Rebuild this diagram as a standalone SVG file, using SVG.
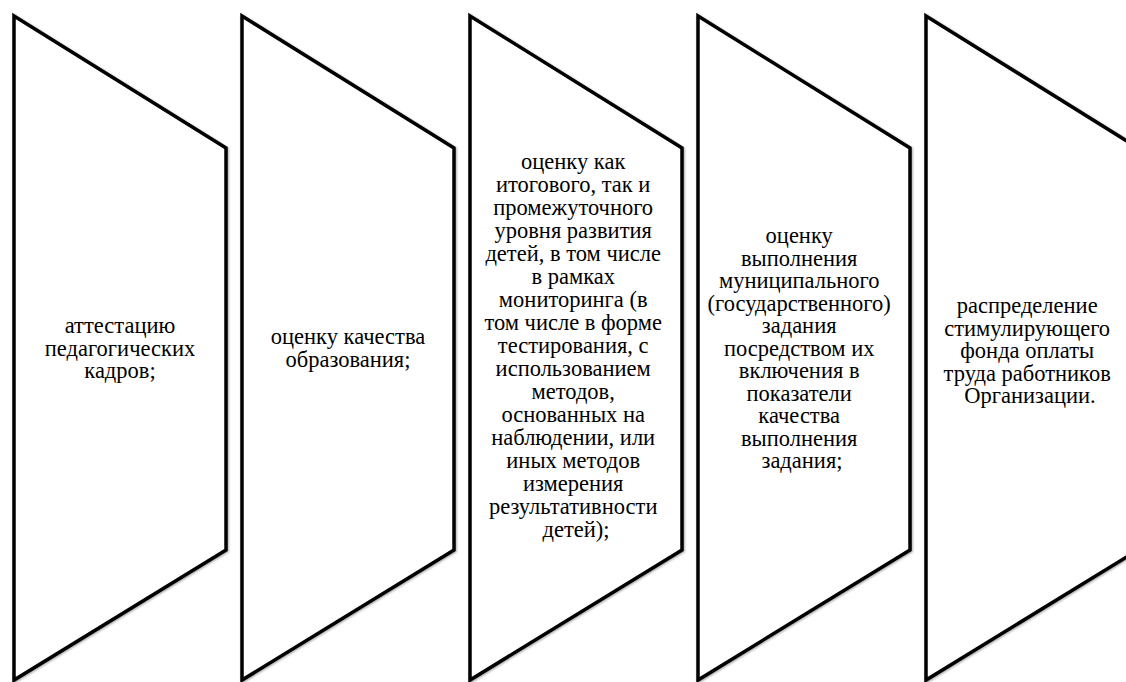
<svg xmlns="http://www.w3.org/2000/svg" width="1126" height="682" viewBox="0 0 1126 682">
<style>
.shape{fill:#fff;stroke:#000;stroke-width:3.5;stroke-linejoin:miter;filter:url(#sh)}
.t{font-size:22.5px;fill:#000;text-anchor:middle}
</style>
<defs>
<filter id="sh" x="-5%" y="-5%" width="110%" height="110%">
<feDropShadow dx="1" dy="1" stdDeviation="1" flood-color="#000" flood-opacity="0.35"/>
</filter>
<path id="p" d="M0,0 L212,132 L212,534 L0,664 Z"/>
</defs>
<g id="connectors"></g>
<g id="node1">
<use href="#p" class="shape" x="14" y="16"/>
<text class="t" font-family="Liberation Serif, serif"><tspan x="120" y="333">аттестацию</tspan><tspan x="120" y="355.5">педагогических</tspan><tspan x="120" y="378">кадров;</tspan></text>
</g>
<g id="node2">
<use href="#p" class="shape" x="242" y="16"/>
<text class="t" font-family="Liberation Serif, serif"><tspan x="348" y="344">оценку качества</tspan><tspan x="348" y="366.5">образования;</tspan></text>
</g>
<g id="node3">
<use href="#p" class="shape" x="470" y="16"/>
<text class="t" font-family="Liberation Serif, serif">
<tspan x="576" y="169">оценку как</tspan>
<tspan x="576" y="192">итогового, так и</tspan>
<tspan x="576" y="215">промежуточного</tspan>
<tspan x="576" y="238">уровня развития</tspan>
<tspan x="576" y="261">детей, в том числе</tspan>
<tspan x="576" y="284">в рамках</tspan>
<tspan x="576" y="307">мониторинга (в</tspan>
<tspan x="576" y="330">том числе в форме</tspan>
<tspan x="576" y="353">тестирования, с</tspan>
<tspan x="576" y="376">использованием</tspan>
<tspan x="576" y="399">методов,</tspan>
<tspan x="576" y="422">основанных на</tspan>
<tspan x="576" y="445">наблюдении, или</tspan>
<tspan x="576" y="468">иных методов</tspan>
<tspan x="576" y="491">измерения</tspan>
<tspan x="576" y="514">результативности</tspan>
<tspan x="576" y="537">детей);</tspan>
</text>
</g>
<g id="node4">
<use href="#p" class="shape" x="698" y="16"/>
<text class="t" font-family="Liberation Serif, serif">
<tspan x="802" y="243">оценку</tspan>
<tspan x="802" y="265.5">выполнения</tspan>
<tspan x="802" y="288">муниципального</tspan>
<tspan x="802" y="310.5">(государственного)</tspan>
<tspan x="802" y="333">задания</tspan>
<tspan x="802" y="355.5">посредством их</tspan>
<tspan x="802" y="378">включения в</tspan>
<tspan x="802" y="400.5">показатели</tspan>
<tspan x="802" y="423">качества</tspan>
<tspan x="802" y="445.5">выполнения</tspan>
<tspan x="802" y="468">задания;</tspan>
</text>
</g>
<g id="node5">
<use href="#p" class="shape" x="926" y="16"/>
<text class="t" font-family="Liberation Serif, serif">
<tspan x="1030" y="313">распределение</tspan>
<tspan x="1030" y="335.5">стимулирующего</tspan>
<tspan x="1030" y="358">фонда оплаты</tspan>
<tspan x="1030" y="380.5">труда работников</tspan>
<tspan x="1030" y="403">Организации.</tspan>
</text>
</g>
</svg>
